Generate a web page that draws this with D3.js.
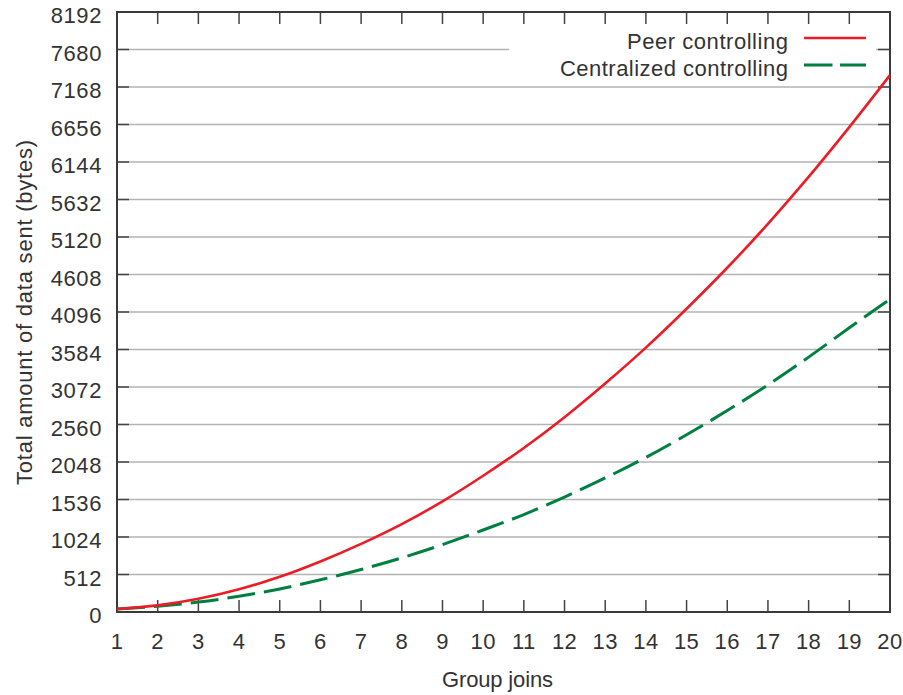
<!DOCTYPE html>
<html><head><meta charset="utf-8">
<script src="https://cdn.jsdelivr.net/npm/d3@7/dist/d3.min.js"></script>
<style>
html,body{margin:0;padding:0;background:#fff;}
svg{display:block;font-family:"Liberation Sans",Arial,sans-serif;}
</style></head>
<body>
<svg id="chart" width="903" height="695"></svg>
<script>
const groupJoins = [1,2,3,4,5,6,7,8,9,10,11,12,13,14,15,16,17,18,19,20];
const peerControlling = [40,90,180,310,480,690,930,1200,1510,1860,2240,2660,3120,3610,4140,4700,5300,5940,6620,7330];
const centralizedControlling = [40,80,135,215,315,440,580,740,920,1120,1330,1570,1830,2110,2420,2750,3100,3480,3880,4270];
const yTicks = [0,512,1024,1536,2048,2560,3072,3584,4096,4608,5120,5632,6144,6656,7168,7680,8192];
const seriesNames = ["Peer controlling","Centralized controlling"];
const seriesColors = ["#ec1c24","#008040"];

const svg = d3.select("#chart");
const L=117, R=890, T=12, B=612;
const x = d3.scaleLinear().domain([1,20]).range([L,R]);
const y = d3.scaleLinear().domain([0,8192]).range([B,T]);
const textCol = "#333";
const fs = 22;

// grid
svg.append("g").selectAll("line").data(yTicks.filter(v=>v>0 && v<8192)).join("line")
  .attr("x1",L).attr("x2",R).attr("y1",d=>y(d)).attr("y2",d=>y(d))
  .attr("stroke","#b3b3b3").attr("stroke-width",1.5);

// legend background
const legX0 = 509, legX1 = 876;
svg.append("rect").attr("x",legX0).attr("y",27).attr("width",legX1-legX0).attr("height",52).attr("fill","#fff");

// ticks (inward)
const tk = 12, tickCol="#444";
const tg = svg.append("g").attr("stroke",tickCol).attr("stroke-width",1.5);
tg.selectAll(".yl").data(yTicks).join("line").attr("x1",L).attr("x2",L+tk).attr("y1",d=>y(d)).attr("y2",d=>y(d));
tg.selectAll(".yr").data(yTicks).join("line").attr("x1",R-tk).attr("x2",R).attr("y1",d=>y(d)).attr("y2",d=>y(d));
tg.selectAll(".xb").data(groupJoins).join("line").attr("x1",d=>x(d)).attr("x2",d=>x(d)).attr("y1",B).attr("y2",B-tk);
tg.selectAll(".xt").data(groupJoins).join("line").attr("x1",d=>x(d)).attr("x2",d=>x(d)).attr("y1",T).attr("y2",T+tk);

// frame
svg.append("rect").attr("x",L).attr("y",T).attr("width",R-L).attr("height",B-T)
  .attr("fill","none").attr("stroke","#3a3a3a").attr("stroke-width",2);

// tick labels
svg.append("g").selectAll("text").data(yTicks).join("text")
  .attr("x",102).attr("y",d=>y(d)+11).attr("text-anchor","end")
  .attr("font-size",fs).attr("letter-spacing","0.6px").attr("fill",textCol).text(d=>d);
svg.append("g").selectAll("text").data(groupJoins).join("text")
  .attr("x",d=>x(d)).attr("y",649).attr("text-anchor","middle")
  .attr("font-size",fs).attr("letter-spacing","0.4px").attr("fill",textCol).text(d=>d);

// axis titles
svg.append("text").attr("x",497.5).attr("y",687).attr("text-anchor","middle")
  .attr("font-size",fs).attr("fill",textCol).attr("textLength",111).attr("lengthAdjust","spacing").text("Group joins");
svg.append("text").attr("transform","translate(32,312.5) rotate(-90)").attr("text-anchor","middle")
  .attr("font-size",fs).attr("fill",textCol).attr("textLength",345).attr("lengthAdjust","spacing")
  .text("Total amount of data sent (bytes)");

// lines
const line = d3.line().x((d,i)=>x(groupJoins[i])).y(d=>y(d)).curve(d3.curveMonotoneX);
svg.append("path").datum(centralizedControlling).attr("d",line).attr("fill","none")
  .attr("stroke",seriesColors[1]).attr("stroke-width",3).attr("stroke-dasharray","28,9");
svg.append("path").datum(peerControlling).attr("d",line).attr("fill","none")
  .attr("stroke",seriesColors[0]).attr("stroke-width",2.6);

// legend
const legWidths = [161,228];
const leg = svg.append("g");
seriesNames.forEach((name,i)=>{
  const yy = 38 + i*27;
  leg.append("text").attr("x",788).attr("y",yy+10.5).attr("text-anchor","end")
    .attr("font-size",fs).attr("fill",textCol)
    .attr("textLength",legWidths[i]).attr("lengthAdjust","spacing").text(name);
  leg.append("line").attr("x1",804).attr("x2",866).attr("y1",yy).attr("y2",yy)
    .attr("stroke",seriesColors[i]).attr("stroke-width",i===0?2.6:3)
    .attr("stroke-dasharray",i===0?null:"28.5,7.5");
});
</script>
</body></html>
